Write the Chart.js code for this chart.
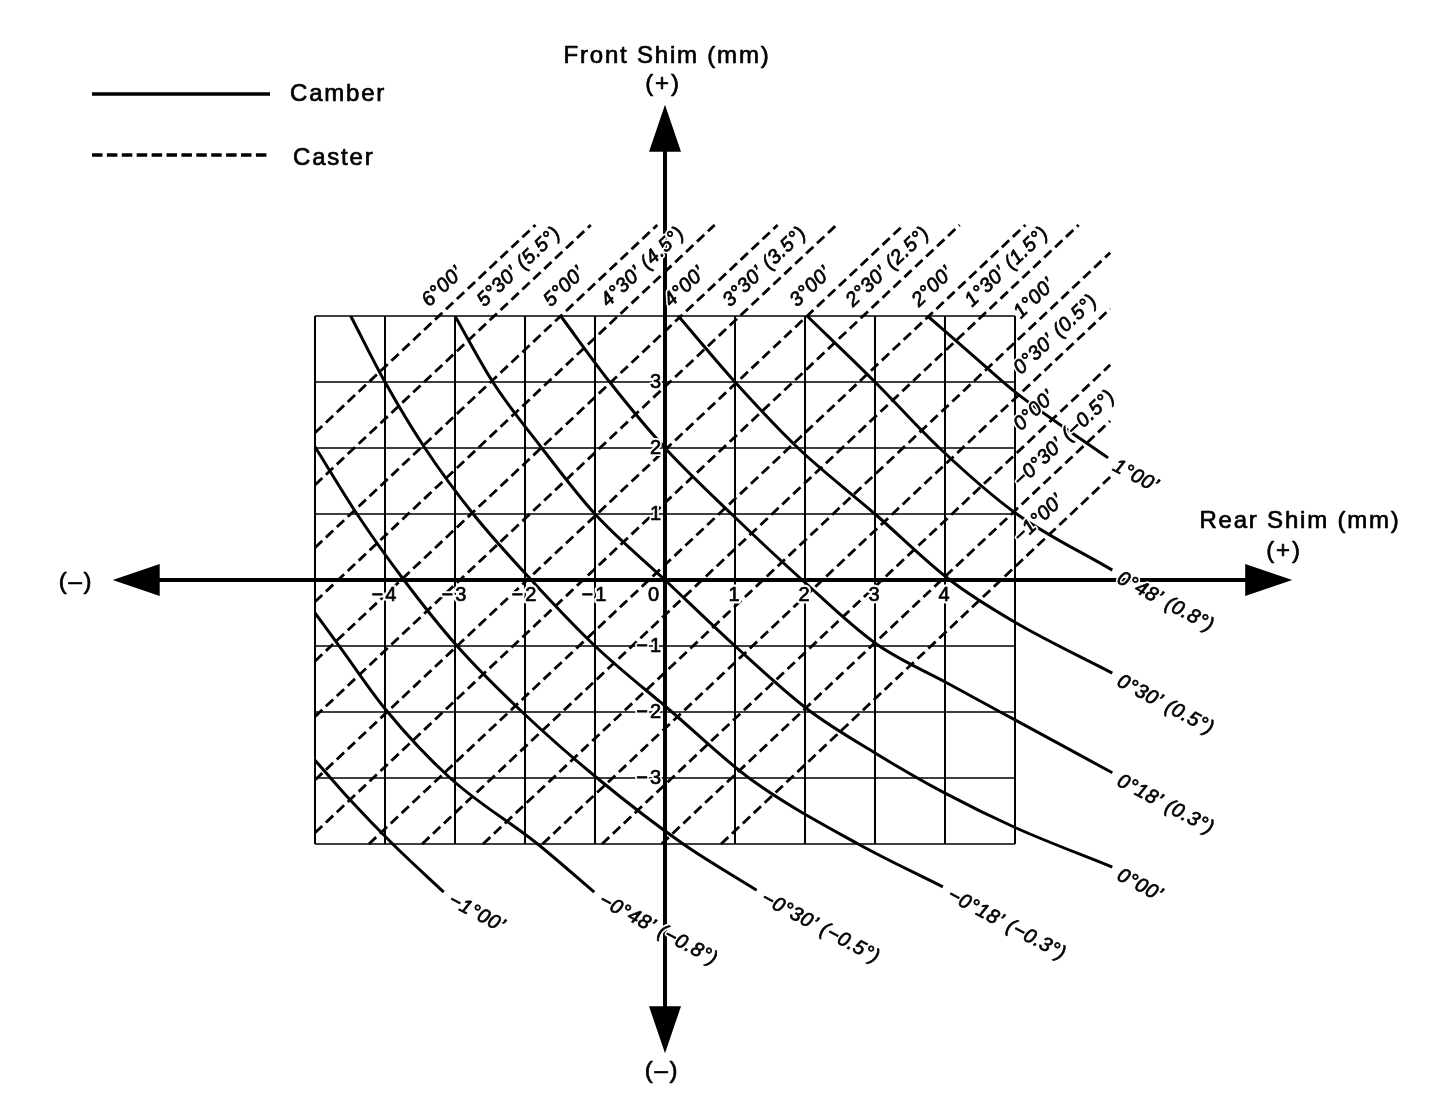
<!DOCTYPE html>
<html>
<head>
<meta charset="utf-8">
<script src="https://cdn.jsdelivr.net/npm/chart.js@4.4.1/dist/chart.umd.min.js"></script>
<style>
  html, body { margin: 0; background: #fff; }
  #wrap { width: 1440px; height: 1112px; position: relative; }
</style>
</head>
<body>
<div id="wrap"><canvas id="shimChart"></canvas></div>
<script>
// grid of the chart (mm of shim)
const gridX = [-5, -4, -3, -2, -1, 0, 1, 2, 3, 4, 5];
const gridY = [-4, -3, -2, -1, 0, 1, 2, 3, 4];

// tick labels along the two axes
const xTickValues = [-4, -3, -2, -1, 0, 1, 2, 3, 4];
const xTickLabels = ['−4', '−3', '−2', '−1', '0', '1', '2', '3', '4'];
const yTickValues = [3, 2, 1, -1, -2, -3];
const yTickLabels = ['3', '2', '1', '−1', '−2', '−3'];

// caster lines: front = rear + offset, one line per 0°30'
const casterOffsets = [7.23, 6.44, 5.49, 4.67, 3.77, 2.93, 1.97, 1.17, 0.23, -0.53, -1.40, -2.25, -3.10, -3.95, -4.80];
const casterLabels = ['6°00’', '5°30’ (5.5°)', '5°00’', '4°30’ (4.5°)', '4°00’', '3°30’ (3.5°)', '3°00’',
  '2°30’ (2.5°)', '2°00’', '1°30’ (1.5°)', '1°00’', '0°30’ (0.5°)', '0°00’', '−0°30’ (−0.5°)', '−1°00’'];
// dashed lines run out past the grid up to here
const casterTopY = 5.38;
const casterRightX = 6.36;

// camber curves, [rear, front] read where they cross the grid
const camberM100 = [[-5.00, -2.73], [-4.50, -3.33], [-3.89, -4.00], [-3.16, -4.73]];
const camberM048 = [[-5.00, -0.50], [-4.64, -1.02], [-4.00, -1.95], [-3.07, -3.00], [-1.82, -4.00], [-1.01, -4.73]];
const camberM030 = [[-5.00, 2.02], [-4.40, 1.00], [-3.73, 0.00], [-2.97, -1.00], [-2.04, -2.00], [-0.97, -3.00], [0.26, -4.00], [1.31, -4.70]];
const camberM018 = [[-4.49, 4.00], [-4.00, 3.00], [-3.43, 2.00], [-2.74, 1.00], [-1.91, 0.00], [-1.00, -1.00], [0.10, -2.00], [1.20, -3.00], [2.76, -4.00], [3.97, -4.65]];
const camber000 = [[-3.00, 4.00], [-2.46, 3.00], [-1.76, 2.00], [-1.00, 1.00], [0.00, 0.00], [1.00, -1.00], [2.05, -1.97], [3.00, -2.62], [4.00, -3.23], [5.00, -3.75], [6.39, -4.35]];
const camber018 = [[-1.49, 4.00], [-0.79, 3.00], [0.00, 2.00], [0.95, 1.00], [1.96, 0.00], [3.02, -0.97], [4.03, -1.56], [5.00, -2.12], [6.39, -2.92]];
const camber030 = [[0.19, 4.00], [1.00, 3.00], [1.90, 2.00], [3.00, 1.00], [4.07, 0.00], [5.00, -0.64], [6.39, -1.41]];
const camber048 = [[2.03, 4.00], [3.00, 3.00], [3.92, 2.00], [5.00, 1.02], [6.39, 0.15]];
const camber100 = [[3.75, 4.00], [4.40, 3.40], [5.00, 2.85], [6.33, 1.85]];

const camberCurves = [camberM100, camberM048, camberM030, camberM018, camber000, camber018, camber030, camber048, camber100];
const camberLabels = ['−1°00’', '−0°48’ (−0.8°)', '−0°30’ (−0.5°)', '−0°18’ (−0.3°)', '0°00’',
  '0°18’ (0.3°)', '0°30’ (0.5°)', '0°48’ (0.8°)', '1°00’'];

// how far the two big axes reach
const axisReach = { left: -7.89, right: 8.96, top: 7.2, bottom: -7.17 };

const FONT = '"Liberation Sans", Arial, Helvetica, sans-serif';

const xMin = Math.min(...gridX), xMax = Math.max(...gridX);
const yMin = Math.min(...gridY), yMax = Math.max(...gridY);

const datasets = [];

gridX.forEach(v => {
  datasets.push({ data: [{ x: v, y: yMin }, { x: v, y: yMax }], borderWidth: 2, order: 3 });
});
gridY.forEach(v => {
  datasets.push({ data: [{ x: xMin, y: v }, { x: xMax, y: v }], borderWidth: 1.5, order: 3 });
});

casterOffsets.forEach(c => {
  // start on the left or bottom edge of the grid
  let start = { x: xMin, y: xMin + c };
  if (start.y < yMin) start = { x: yMin - c, y: yMin };
  let end = { x: casterTopY - c, y: casterTopY };
  if (end.x > casterRightX) end = { x: casterRightX, y: casterRightX + c };
  datasets.push({ data: [start, end], borderWidth: 2.8, borderDash: [10, 5], order: 2 });
});

camberCurves.forEach(curve => {
  datasets.push({
    data: curve.map(p => ({ x: p[0], y: p[1] })),
    borderWidth: 3, cubicInterpolationMode: 'monotone', order: 1
  });
});

datasets.forEach(d => {
  d.borderColor = '#000';
  d.pointRadius = 0;
  d.showLine = true;
  d.fill = false;
  d.borderCapStyle = 'butt';
});

function label(ctx, text, x, y, angle, opts) {
  ctx.save();
  ctx.translate(x, y);
  ctx.rotate(angle);
  ctx.font = opts.font;
  ctx.letterSpacing = opts.spacing || '0px';
  ctx.textAlign = opts.align || 'left';
  ctx.textBaseline = opts.baseline || 'alphabetic';
  ctx.lineJoin = 'round';
  if (opts.halo) {
    ctx.lineWidth = opts.halo;
    ctx.strokeStyle = '#fff';
    ctx.strokeText(text, 0, 0);
  }
  ctx.fillStyle = '#000';
  ctx.fillText(text, 0, 0);
  // scanned print looks a touch heavier
  ctx.lineWidth = 0.7;
  ctx.strokeStyle = '#000';
  ctx.strokeText(text, 0, 0);
  ctx.restore();
}

const decor = {
  id: 'shimDecor',
  afterDatasetsDraw(chart) {
    const { ctx } = chart;
    const sx = chart.scales.x, sy = chart.scales.y;
    const px = v => sx.getPixelForValue(v);
    const py = v => sy.getPixelForValue(v);
    const x0 = px(0), y0 = py(0);
    const L = px(axisReach.left), R = px(axisReach.right);
    const T = py(axisReach.top), B = py(axisReach.bottom);
    const head = 47, half = 16;

    ctx.save();
    ctx.strokeStyle = '#000';
    ctx.fillStyle = '#000';
    ctx.lineWidth = 4;
    ctx.beginPath();
    ctx.moveTo(L + 10, y0); ctx.lineTo(R - 10, y0);
    ctx.moveTo(x0, T + 10); ctx.lineTo(x0, B - 10);
    ctx.stroke();
    ctx.beginPath();
    ctx.moveTo(L, y0); ctx.lineTo(L + head, y0 - half); ctx.lineTo(L + head, y0 + half); ctx.closePath();
    ctx.moveTo(R, y0); ctx.lineTo(R - head, y0 - half); ctx.lineTo(R - head, y0 + half); ctx.closePath();
    ctx.moveTo(x0, T); ctx.lineTo(x0 - half, T + head); ctx.lineTo(x0 + half, T + head); ctx.closePath();
    ctx.moveTo(x0, B); ctx.lineTo(x0 - half, B - head); ctx.lineTo(x0 + half, B - head); ctx.closePath();
    ctx.fill();
    ctx.restore();

    const tickFont = '20px ' + FONT;
    xTickValues.forEach((v, i) => {
      if (v === 0) {
        label(ctx, xTickLabels[i], x0 - 4, y0 + 15, 0, { font: tickFont, spacing: '2px', align: 'right', baseline: 'middle', halo: 5 });
      } else {
        label(ctx, xTickLabels[i], px(v), y0 + 15, 0, { font: tickFont, spacing: '2px', align: 'center', baseline: 'middle', halo: 5 });
      }
    });
    yTickValues.forEach((v, i) => {
      label(ctx, yTickLabels[i], x0 - 2, py(v), 0, { font: tickFont, spacing: '2px', align: 'right', baseline: 'middle', halo: 4 });
    });

    // axis titles
    const titleFont = '24px ' + FONT;
    label(ctx, 'Front Shim (mm)', x0 + 2, 56, 0, { font: titleFont, spacing: '1.8px', align: 'center', baseline: 'middle' });
    label(ctx, '(+)', x0 - 2, 84, 0, { font: titleFont, spacing: '1.8px', align: 'center', baseline: 'middle' });
    label(ctx, '(–)', x0 - 3, 1071, 0, { font: titleFont, spacing: '1.8px', align: 'center', baseline: 'middle' });
    label(ctx, '(–)', 76, y0 + 2, 0, { font: titleFont, spacing: '1.8px', align: 'center', baseline: 'middle' });
    label(ctx, 'Rear Shim (mm)', 1300, 521, 0, { font: titleFont, spacing: '1.8px', align: 'center', baseline: 'middle' });
    label(ctx, '(+)', 1284, 551, 0, { font: titleFont, spacing: '1.8px', align: 'center', baseline: 'middle' });

    // legend
    ctx.save();
    ctx.strokeStyle = '#000';
    ctx.lineWidth = 3.5;
    ctx.beginPath(); ctx.moveTo(92, 94); ctx.lineTo(270, 94); ctx.stroke();
    ctx.setLineDash([10.5, 4.4]);
    ctx.beginPath(); ctx.moveTo(92, 155); ctx.lineTo(270, 155); ctx.stroke();
    ctx.restore();
    label(ctx, 'Camber', 290, 94, 0, { font: titleFont, spacing: '1.8px', baseline: 'middle' });
    label(ctx, 'Caster', 293, 158, 0, { font: titleFont, spacing: '1.8px', baseline: 'middle' });

    // caster labels along the dashed lines
    const ddx = px(1) - px(0), ddy = py(1) - py(0);
    const len = Math.hypot(ddx, ddy);
    const dir = { x: ddx / len, y: ddy / len };
    const nrm = { x: dir.y, y: -dir.x };
    const ang = Math.atan2(ddy, ddx);
    const lblFont = 'italic 20px ' + FONT;
    casterOffsets.forEach((c, i) => {
      let P, t;
      if (yMax - c <= xMax) { P = { x: px(yMax - c), y: py(yMax) }; t = -1.5; }
      else { P = { x: px(xMax), y: py(xMax + c) }; t = 20; }
      const d = 13;
      const sxp = P.x + t * dir.x + d * nrm.x;
      const syp = P.y + t * dir.y + d * nrm.y;
      label(ctx, casterLabels[i], sxp, syp, ang, { font: lblFont, spacing: '0.5px', halo: 4 });
    });

    // camber labels after the end of each curve
    const camAng = 28 * Math.PI / 180;
    camberCurves.forEach((curve, i) => {
      const last = curve[curve.length - 1];
      label(ctx, camberLabels[i], px(last[0]) + 6, py(last[1]) + 7, camAng,
        { font: lblFont, spacing: '0.5px', baseline: 'middle', halo: 4 });
    });
  }
};

new Chart(document.getElementById('shimChart'), {
  type: 'scatter',
  data: { datasets },
  options: {
    responsive: true,
    maintainAspectRatio: false,
    animation: false,
    devicePixelRatio: 1,
    events: [],
    layout: { padding: 0 },
    plugins: { legend: { display: false }, tooltip: { enabled: false } },
    scales: {
      x: { type: 'linear', min: -9.5, max: 11.0714, display: false },
      y: { type: 'linear', min: -8.0606, max: 8.7879, display: false }
    }
  },
  plugins: [decor]
});
</script>
</body>
</html>
